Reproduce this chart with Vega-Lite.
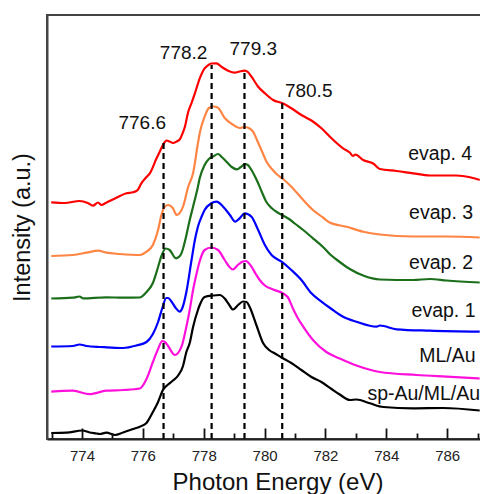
{
"$schema": "https://vega.github.io/schema/vega-lite/v6.json",
"width": 461, "height": 424,
"autosize": {"type": "none"},
"padding": {"left": 47, "top": 15, "right": 0, "bottom": 55},
"config": {"font": "Liberation Sans", "view": {"stroke": "#444", "strokeWidth": 2},
 "axis": {"grid": false},
 "axisY": {"ticks": false, "labels": false, "domainColor": "#444", "domainWidth": 2, "titleFontSize": 23.5, "titleFontWeight": "normal", "titleColor": "#111", "titlePadding": 13}},
"datasets": {
"spectra": [
{"s":"evap. 4","x":772.99,"y":236.7},{"s":"evap. 4","x":773.43,"y":236},{"s":"evap. 4","x":773.92,"y":238},{"s":"evap. 4","x":774.19,"y":236},{"s":"evap. 4","x":774.36,"y":233.3},{"s":"evap. 4","x":774.53,"y":236.5},{"s":"evap. 4","x":774.64,"y":234},{"s":"evap. 4","x":774.78,"y":236},{"s":"evap. 4","x":774.91,"y":238},{"s":"evap. 4","x":775.13,"y":241.3},{"s":"evap. 4","x":775.46,"y":245.7},{"s":"evap. 4","x":775.68,"y":246.7},{"s":"evap. 4","x":775.83,"y":249},{"s":"evap. 4","x":775.95,"y":255.7},{"s":"evap. 4","x":776.12,"y":262},{"s":"evap. 4","x":776.23,"y":265.7},{"s":"evap. 4","x":776.45,"y":280.7},{"s":"evap. 4","x":776.55,"y":287},{"s":"evap. 4","x":776.66,"y":294},{"s":"evap. 4","x":776.78,"y":298.5},{"s":"evap. 4","x":776.88,"y":297.5},{"s":"evap. 4","x":776.99,"y":296},{"s":"evap. 4","x":777.11,"y":297.5},{"s":"evap. 4","x":777.21,"y":299.5},{"s":"evap. 4","x":777.31,"y":306},{"s":"evap. 4","x":777.38,"y":312},{"s":"evap. 4","x":777.49,"y":327},{"s":"evap. 4","x":777.6,"y":336},{"s":"evap. 4","x":777.71,"y":345.7},{"s":"evap. 4","x":777.87,"y":360.7},{"s":"evap. 4","x":778.03,"y":370.7},{"s":"evap. 4","x":778.13,"y":373.5},{"s":"evap. 4","x":778.25,"y":375.5},{"s":"evap. 4","x":778.42,"y":375.7},{"s":"evap. 4","x":778.58,"y":372.3},{"s":"evap. 4","x":778.8,"y":368.3},{"s":"evap. 4","x":779.02,"y":366.3},{"s":"evap. 4","x":779.18,"y":367.5},{"s":"evap. 4","x":779.35,"y":368.3},{"s":"evap. 4","x":779.45,"y":367},{"s":"evap. 4","x":779.57,"y":362.3},{"s":"evap. 4","x":779.79,"y":352.3},{"s":"evap. 4","x":780.01,"y":345.7},{"s":"evap. 4","x":780.28,"y":339},{"s":"evap. 4","x":780.61,"y":335.5},{"s":"evap. 4","x":780.88,"y":330.7},{"s":"evap. 4","x":781.21,"y":324},{"s":"evap. 4","x":781.54,"y":318.5},{"s":"evap. 4","x":781.87,"y":310.7},{"s":"evap. 4","x":782.2,"y":300.7},{"s":"evap. 4","x":782.58,"y":290.7},{"s":"evap. 4","x":782.8,"y":286.5},{"s":"evap. 4","x":782.91,"y":283},{"s":"evap. 4","x":782.98,"y":284.5},{"s":"evap. 4","x":783.24,"y":279},{"s":"evap. 4","x":783.57,"y":275.5},{"s":"evap. 4","x":783.79,"y":270},{"s":"evap. 4","x":784.34,"y":268},{"s":"evap. 4","x":784.88,"y":265.7},{"s":"evap. 4","x":785.43,"y":263.5},{"s":"evap. 4","x":786.31,"y":263.5},{"s":"evap. 4","x":786.75,"y":261.7},{"s":"evap. 4","x":787.07,"y":259},
{"s":"evap. 3","x":772.99,"y":183},{"s":"evap. 3","x":773.7,"y":184},{"s":"evap. 3","x":774.15,"y":186.3},{"s":"evap. 3","x":774.53,"y":188.3},{"s":"evap. 3","x":774.8,"y":186.3},{"s":"evap. 3","x":775.24,"y":185},{"s":"evap. 3","x":775.9,"y":184},{"s":"evap. 3","x":776.12,"y":187.3},{"s":"evap. 3","x":776.33,"y":194},{"s":"evap. 3","x":776.5,"y":209},{"s":"evap. 3","x":776.61,"y":224},{"s":"evap. 3","x":776.72,"y":232.3},{"s":"evap. 3","x":776.83,"y":234},{"s":"evap. 3","x":776.99,"y":230.7},{"s":"evap. 3","x":777.11,"y":224},{"s":"evap. 3","x":777.32,"y":232.3},{"s":"evap. 3","x":777.49,"y":252.3},{"s":"evap. 3","x":777.65,"y":265.7},{"s":"evap. 3","x":777.81,"y":295.7},{"s":"evap. 3","x":777.87,"y":306},{"s":"evap. 3","x":778.03,"y":322.3},{"s":"evap. 3","x":778.17,"y":331},{"s":"evap. 3","x":778.31,"y":332.5},{"s":"evap. 3","x":778.46,"y":331.5},{"s":"evap. 3","x":778.69,"y":321},{"s":"evap. 3","x":778.95,"y":314.5},{"s":"evap. 3","x":779.18,"y":311},{"s":"evap. 3","x":779.35,"y":312},{"s":"evap. 3","x":779.51,"y":310.5},{"s":"evap. 3","x":779.62,"y":307.3},{"s":"evap. 3","x":779.78,"y":297},{"s":"evap. 3","x":779.91,"y":288},{"s":"evap. 3","x":780.07,"y":277},{"s":"evap. 3","x":780.24,"y":270},{"s":"evap. 3","x":780.43,"y":264},{"s":"evap. 3","x":780.61,"y":260},{"s":"evap. 3","x":780.88,"y":252.3},{"s":"evap. 3","x":781.27,"y":239},{"s":"evap. 3","x":781.59,"y":229},{"s":"evap. 3","x":781.92,"y":221.5},{"s":"evap. 3","x":782.14,"y":216.5},{"s":"evap. 3","x":782.69,"y":212.3},{"s":"evap. 3","x":783.24,"y":207.3},{"s":"evap. 3","x":783.79,"y":204.5},{"s":"evap. 3","x":784.88,"y":202.5},{"s":"evap. 3","x":785.98,"y":202.5},{"s":"evap. 3","x":787.07,"y":201.5},
{"s":"evap. 2","x":772.99,"y":140.5},{"s":"evap. 2","x":773.7,"y":141.3},{"s":"evap. 2","x":773.92,"y":142.5},{"s":"evap. 2","x":774.03,"y":140.7},{"s":"evap. 2","x":774.8,"y":141.7},{"s":"evap. 2","x":775.35,"y":141.3},{"s":"evap. 2","x":775.9,"y":141.5},{"s":"evap. 2","x":776.12,"y":147},{"s":"evap. 2","x":776.33,"y":156},{"s":"evap. 2","x":776.5,"y":172},{"s":"evap. 2","x":776.61,"y":183},{"s":"evap. 2","x":776.75,"y":190.5},{"s":"evap. 2","x":776.88,"y":189},{"s":"evap. 2","x":777.09,"y":180.7},{"s":"evap. 2","x":777.25,"y":184.5},{"s":"evap. 2","x":777.41,"y":201},{"s":"evap. 2","x":777.54,"y":219},{"s":"evap. 2","x":777.65,"y":232.3},{"s":"evap. 2","x":777.81,"y":252.3},{"s":"evap. 2","x":777.87,"y":261},{"s":"evap. 2","x":778.03,"y":274},{"s":"evap. 2","x":778.17,"y":280},{"s":"evap. 2","x":778.31,"y":282.5},{"s":"evap. 2","x":778.47,"y":285},{"s":"evap. 2","x":778.59,"y":282},{"s":"evap. 2","x":778.75,"y":277.3},{"s":"evap. 2","x":778.92,"y":272},{"s":"evap. 2","x":779.09,"y":269.7},{"s":"evap. 2","x":779.22,"y":272},{"s":"evap. 2","x":779.35,"y":275},{"s":"evap. 2","x":779.45,"y":274},{"s":"evap. 2","x":779.58,"y":268.5},{"s":"evap. 2","x":779.71,"y":261},{"s":"evap. 2","x":779.79,"y":255.7},{"s":"evap. 2","x":779.91,"y":247},{"s":"evap. 2","x":780.06,"y":237},{"s":"evap. 2","x":780.24,"y":230.7},{"s":"evap. 2","x":780.4,"y":227},{"s":"evap. 2","x":780.61,"y":223.5},{"s":"evap. 2","x":780.83,"y":219.5},{"s":"evap. 2","x":780.99,"y":215.5},{"s":"evap. 2","x":781.27,"y":209},{"s":"evap. 2","x":781.59,"y":200.7},{"s":"evap. 2","x":781.92,"y":192},{"s":"evap. 2","x":782.14,"y":185},{"s":"evap. 2","x":782.47,"y":177},{"s":"evap. 2","x":782.8,"y":170},{"s":"evap. 2","x":783.24,"y":163.5},{"s":"evap. 2","x":783.79,"y":159.5},{"s":"evap. 2","x":784.88,"y":159},{"s":"evap. 2","x":785.43,"y":160},{"s":"evap. 2","x":785.98,"y":158.5},{"s":"evap. 2","x":787.07,"y":156.5},
{"s":"evap. 1","x":772.99,"y":92.5},{"s":"evap. 1","x":773.7,"y":93},{"s":"evap. 1","x":773.92,"y":94.5},{"s":"evap. 1","x":774.15,"y":93},{"s":"evap. 1","x":774.58,"y":92},{"s":"evap. 1","x":774.8,"y":91.7},{"s":"evap. 1","x":775.35,"y":91},{"s":"evap. 1","x":775.79,"y":93.5},{"s":"evap. 1","x":776.12,"y":97},{"s":"evap. 1","x":776.33,"y":105},{"s":"evap. 1","x":776.5,"y":117},{"s":"evap. 1","x":776.64,"y":131},{"s":"evap. 1","x":776.77,"y":141},{"s":"evap. 1","x":776.83,"y":141},{"s":"evap. 1","x":776.95,"y":137},{"s":"evap. 1","x":777.08,"y":131},{"s":"evap. 1","x":777.21,"y":127.3},{"s":"evap. 1","x":777.31,"y":132},{"s":"evap. 1","x":777.43,"y":147},{"s":"evap. 1","x":777.6,"y":179},{"s":"evap. 1","x":777.71,"y":199},{"s":"evap. 1","x":777.81,"y":212.3},{"s":"evap. 1","x":777.94,"y":223},{"s":"evap. 1","x":778.03,"y":229},{"s":"evap. 1","x":778.25,"y":235.7},{"s":"evap. 1","x":778.42,"y":237.3},{"s":"evap. 1","x":778.64,"y":232.3},{"s":"evap. 1","x":778.86,"y":224},{"s":"evap. 1","x":779.04,"y":217.3},{"s":"evap. 1","x":779.18,"y":220.7},{"s":"evap. 1","x":779.35,"y":225.7},{"s":"evap. 1","x":779.57,"y":222.3},{"s":"evap. 1","x":779.79,"y":209},{"s":"evap. 1","x":780.01,"y":194},{"s":"evap. 1","x":780.23,"y":184},{"s":"evap. 1","x":780.56,"y":177.3},{"s":"evap. 1","x":780.88,"y":169},{"s":"evap. 1","x":781.21,"y":159},{"s":"evap. 1","x":781.54,"y":145.7},{"s":"evap. 1","x":781.87,"y":137.3},{"s":"evap. 1","x":782.2,"y":130},{"s":"evap. 1","x":782.58,"y":122.3},{"s":"evap. 1","x":783.02,"y":117.3},{"s":"evap. 1","x":783.68,"y":112.3},{"s":"evap. 1","x":783.79,"y":113.5},{"s":"evap. 1","x":784.34,"y":109.7},{"s":"evap. 1","x":785.43,"y":108.3},{"s":"evap. 1","x":787.07,"y":107.3},
{"s":"ML/Au","x":772.99,"y":47.3},{"s":"ML/Au","x":773.7,"y":48.3},{"s":"ML/Au","x":774.25,"y":44.8},{"s":"ML/Au","x":774.8,"y":48.3},{"s":"ML/Au","x":775.35,"y":49},{"s":"ML/Au","x":775.9,"y":50.5},{"s":"ML/Au","x":776.12,"y":60},{"s":"ML/Au","x":776.33,"y":77},{"s":"ML/Au","x":776.5,"y":90},{"s":"ML/Au","x":776.64,"y":98},{"s":"ML/Au","x":776.72,"y":97},{"s":"ML/Au","x":776.83,"y":93},{"s":"ML/Au","x":777.05,"y":84},{"s":"ML/Au","x":777.27,"y":92.3},{"s":"ML/Au","x":777.43,"y":112.3},{"s":"ML/Au","x":777.54,"y":129},{"s":"ML/Au","x":777.65,"y":149},{"s":"ML/Au","x":777.77,"y":166},{"s":"ML/Au","x":777.87,"y":178},{"s":"ML/Au","x":778.03,"y":189},{"s":"ML/Au","x":778.25,"y":191.5},{"s":"ML/Au","x":778.47,"y":189},{"s":"ML/Au","x":778.69,"y":179},{"s":"ML/Au","x":778.82,"y":173},{"s":"ML/Au","x":778.96,"y":169.5},{"s":"ML/Au","x":779.12,"y":174},{"s":"ML/Au","x":779.29,"y":177.5},{"s":"ML/Au","x":779.38,"y":178},{"s":"ML/Au","x":779.57,"y":172.3},{"s":"ML/Au","x":779.71,"y":165},{"s":"ML/Au","x":779.84,"y":159},{"s":"ML/Au","x":780.01,"y":153.5},{"s":"ML/Au","x":780.28,"y":149.5},{"s":"ML/Au","x":780.61,"y":145.5},{"s":"ML/Au","x":780.76,"y":142},{"s":"ML/Au","x":780.94,"y":130},{"s":"ML/Au","x":781.09,"y":121},{"s":"ML/Au","x":781.27,"y":112.3},{"s":"ML/Au","x":781.59,"y":99},{"s":"ML/Au","x":782.03,"y":87},{"s":"ML/Au","x":782.47,"y":80.5},{"s":"ML/Au","x":783.02,"y":73.5},{"s":"ML/Au","x":783.79,"y":67},{"s":"ML/Au","x":784.99,"y":64},{"s":"ML/Au","x":785.98,"y":62.3},{"s":"ML/Au","x":787.07,"y":60.5},
{"s":"sp-Au/ML/Au","x":772.99,"y":6},{"s":"sp-Au/ML/Au","x":773.49,"y":6.3},{"s":"sp-Au/ML/Au","x":774.01,"y":8.5},{"s":"sp-Au/ML/Au","x":774.25,"y":6.5},{"s":"sp-Au/ML/Au","x":774.47,"y":5.5},{"s":"sp-Au/ML/Au","x":774.58,"y":5},{"s":"sp-Au/ML/Au","x":774.8,"y":6.3},{"s":"sp-Au/ML/Au","x":775.08,"y":4},{"s":"sp-Au/ML/Au","x":775.35,"y":6.5},{"s":"sp-Au/ML/Au","x":775.68,"y":10},{"s":"sp-Au/ML/Au","x":775.9,"y":12.3},{"s":"sp-Au/ML/Au","x":776.12,"y":16},{"s":"sp-Au/ML/Au","x":776.33,"y":27},{"s":"sp-Au/ML/Au","x":776.5,"y":37},{"s":"sp-Au/ML/Au","x":776.66,"y":49},{"s":"sp-Au/ML/Au","x":776.83,"y":54.5},{"s":"sp-Au/ML/Au","x":776.99,"y":58.5},{"s":"sp-Au/ML/Au","x":777.16,"y":63.5},{"s":"sp-Au/ML/Au","x":777.32,"y":73},{"s":"sp-Au/ML/Au","x":777.43,"y":87},{"s":"sp-Au/ML/Au","x":777.54,"y":96},{"s":"sp-Au/ML/Au","x":777.65,"y":112},{"s":"sp-Au/ML/Au","x":777.81,"y":129},{"s":"sp-Au/ML/Au","x":777.87,"y":134},{"s":"sp-Au/ML/Au","x":778.03,"y":142},{"s":"sp-Au/ML/Au","x":778.31,"y":143.5},{"s":"sp-Au/ML/Au","x":778.53,"y":144},{"s":"sp-Au/ML/Au","x":778.69,"y":140.5},{"s":"sp-Au/ML/Au","x":778.82,"y":135},{"s":"sp-Au/ML/Au","x":778.96,"y":129.5},{"s":"sp-Au/ML/Au","x":779.13,"y":134},{"s":"sp-Au/ML/Au","x":779.29,"y":137.5},{"s":"sp-Au/ML/Au","x":779.41,"y":137},{"s":"sp-Au/ML/Au","x":779.51,"y":132},{"s":"sp-Au/ML/Au","x":779.73,"y":114},{"s":"sp-Au/ML/Au","x":779.95,"y":96},{"s":"sp-Au/ML/Au","x":780.17,"y":88.5},{"s":"sp-Au/ML/Au","x":780.34,"y":85.5},{"s":"sp-Au/ML/Au","x":780.56,"y":81.5},{"s":"sp-Au/ML/Au","x":780.88,"y":76},{"s":"sp-Au/ML/Au","x":781.21,"y":69},{"s":"sp-Au/ML/Au","x":781.54,"y":62},{"s":"sp-Au/ML/Au","x":781.87,"y":57},{"s":"sp-Au/ML/Au","x":782.2,"y":50},{"s":"sp-Au/ML/Au","x":782.47,"y":44.5},{"s":"sp-Au/ML/Au","x":782.8,"y":39},{"s":"sp-Au/ML/Au","x":783.02,"y":39.5},{"s":"sp-Au/ML/Au","x":783.46,"y":35.7},{"s":"sp-Au/ML/Au","x":783.9,"y":32},{"s":"sp-Au/ML/Au","x":784.88,"y":30.7},{"s":"sp-Au/ML/Au","x":785.87,"y":31},{"s":"sp-Au/ML/Au","x":787.07,"y":28.5}
],
"peaks": [
{"x":776.68,"y":0,"top":297},{"x":778.26,"y":0,"top":374},{"x":779.34,"y":0,"top":367},{"x":780.58,"y":0,"top":335.7}
],
"plabels": [
{"x":775.98,"y":316.5,"t":"776.6"},{"x":777.34,"y":386.5,"t":"778.2"},{"x":779.63,"y":390,"t":"779.3"},{"x":781.45,"y":347.7,"t":"780.5"}
],
"clabels": [
{"x":784.72,"y":285.3,"t":"evap. 4"},{"x":784.75,"y":226,"t":"evap. 3"},{"x":784.75,"y":176.5,"t":"evap. 2"},{"x":784.83,"y":128.2,"t":"evap. 1"},{"x":785.08,"y":83.2,"t":"ML/Au"},{"x":783.38,"y":44.8,"t":"sp-Au/ML/Au"}
]
},
"encoding": {
"x": {"field": "x", "type": "quantitative", "scale": {"domain": [772.85, 788.0], "nice": false, "zero": false},
 "axis": {"values": [773,774,775,776,777,778,779,780,781,782,783,784,785,786,787,788], "labelExpr": "datum.value % 2 === 0 ? datum.label : ''",
  "ticks": true, "tickSize": -11, "tickColor": "#111", "tickWidth": 1.8, "tickOpacity": 1, "zindex": 1,
  "tickDash": {"condition": {"test": "datum.value % 2 === 0", "value": [20, 0]}, "value": [6, 30]},
  "domainColor": "#222", "domainWidth": 2, "labelFontSize": 15, "labelColor": "#222", "labelPadding": 20, "labelFlush": false,
  "title": "Photon Energy (eV)", "titleFontSize": 24, "titleFontWeight": "normal", "titleColor": "#111", "titlePadding": 7}},
"y": {"field": "y", "type": "quantitative", "scale": {"domain": [0, 424], "nice": false, "zero": false},
 "axis": {"title": "Intensity (a.u.)", "zindex": 1}}
},
"layer": [
{"data": {"name": "spectra"}, "mark": {"type": "line", "strokeWidth": 2.2, "interpolate": "monotone"},
 "encoding": {"color": {"field": "s", "type": "nominal", "legend": null,
  "scale": {"domain": ["evap. 4","evap. 3","evap. 2","evap. 1","ML/Au","sp-Au/ML/Au"], "range": ["#ff0000","#ff8544","#1b6f1b","#0000ff","#ff10dc","#000000"]}}}},
{"data": {"name": "peaks"}, "mark": {"type": "rule", "strokeDash": [6, 4], "strokeWidth": 2.2, "color": "#000"},
 "encoding": {"y2": {"field": "top"}}},
{"data": {"name": "plabels"}, "mark": {"type": "text", "fontSize": 19, "align": "center", "baseline": "middle", "color": "#111"},
 "encoding": {"text": {"field": "t"}}},
{"data": {"name": "clabels"}, "mark": {"type": "text", "fontSize": 19.5, "align": "left", "baseline": "middle", "color": "#111"},
 "encoding": {"text": {"field": "t"}}}
]
}
